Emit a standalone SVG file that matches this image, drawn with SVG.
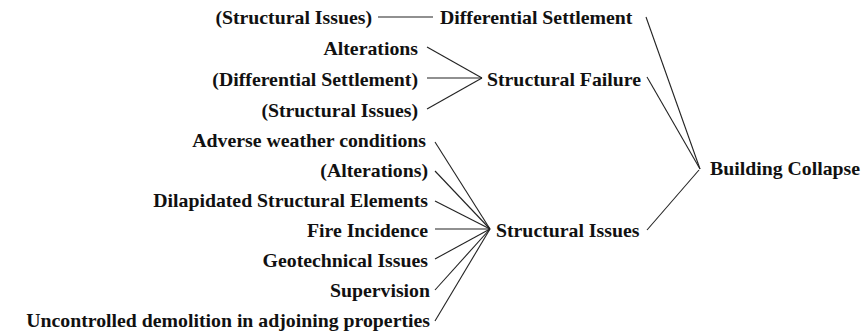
<svg xmlns="http://www.w3.org/2000/svg" width="863" height="336" viewBox="0 0 863 336">
<style>
.t{font-weight:bold;font-size:18px;fill:#111}
.e{text-anchor:end}
#connectors line{stroke:#222;stroke-width:1.1;fill:none}
</style>
<rect width="863" height="336" fill="#fff"/>
<g id="connectors">
<line x1="378" y1="17" x2="433" y2="17"/>
<line x1="427" y1="47" x2="482" y2="78"/>
<line x1="427" y1="78" x2="482" y2="78"/>
<line x1="427" y1="109" x2="482" y2="78"/>
<line x1="435" y1="142" x2="490" y2="229"/>
<line x1="435" y1="171" x2="490" y2="229"/>
<line x1="435" y1="201" x2="490" y2="229"/>
<line x1="435" y1="229" x2="490" y2="229"/>
<line x1="435" y1="259" x2="490" y2="229"/>
<line x1="435" y1="290" x2="490" y2="229"/>
<line x1="435" y1="321" x2="490" y2="229"/>
<line x1="646" y1="17" x2="700" y2="169"/>
<line x1="647" y1="77" x2="700" y2="169"/>
<line x1="647" y1="230" x2="699" y2="170"/>
</g>
<g font-family="Liberation Serif, DejaVu Serif, serif">
<g id="n-si-1"><text class="t e" transform="translate(372,24) scale(1.1 1)">(Structural Issues)</text></g>
<g id="n-differential-settlement"><text class="t" transform="translate(440,24) scale(1.1 1)">Differential Settlement</text></g>
<g id="n-alterations-1"><text class="t e" transform="translate(418,55) scale(1.1 1)">Alterations</text></g>
<g id="n-ds-2"><text class="t e" transform="translate(418,86) scale(1.1 1)">(Differential Settlement)</text></g>
<g id="n-structural-failure"><text class="t" transform="translate(487,86) scale(1.1 1)">Structural Failure</text></g>
<g id="n-si-2"><text class="t e" transform="translate(418,117) scale(1.1 1)">(Structural Issues)</text></g>
<g id="n-adverse"><text class="t e" transform="translate(426,147) scale(1.1 1)">Adverse weather conditions</text></g>
<g id="n-alterations-2"><text class="t e" transform="translate(428,177) scale(1.1 1)">(Alterations)</text></g>
<g id="n-dilapidated"><text class="t e" transform="translate(428,207) scale(1.1 1)">Dilapidated Structural Elements</text></g>
<g id="n-fire"><text class="t e" transform="translate(428,237) scale(1.1 1)">Fire Incidence</text></g>
<g id="n-structural-issues"><text class="t" transform="translate(496,237) scale(1.1 1)">Structural Issues</text></g>
<g id="n-geotechnical"><text class="t e" transform="translate(428,267) scale(1.1 1)">Geotechnical Issues</text></g>
<g id="n-supervision"><text class="t e" transform="translate(430,297) scale(1.1 1)">Supervision</text></g>
<g id="n-uncontrolled"><text class="t e" transform="translate(430,327) scale(1.1 1)">Uncontrolled demolition in adjoining properties</text></g>
<g id="n-building-collapse"><text class="t" transform="translate(710,175) scale(1.1 1)">Building Collapse</text></g>
</g>
</svg>
